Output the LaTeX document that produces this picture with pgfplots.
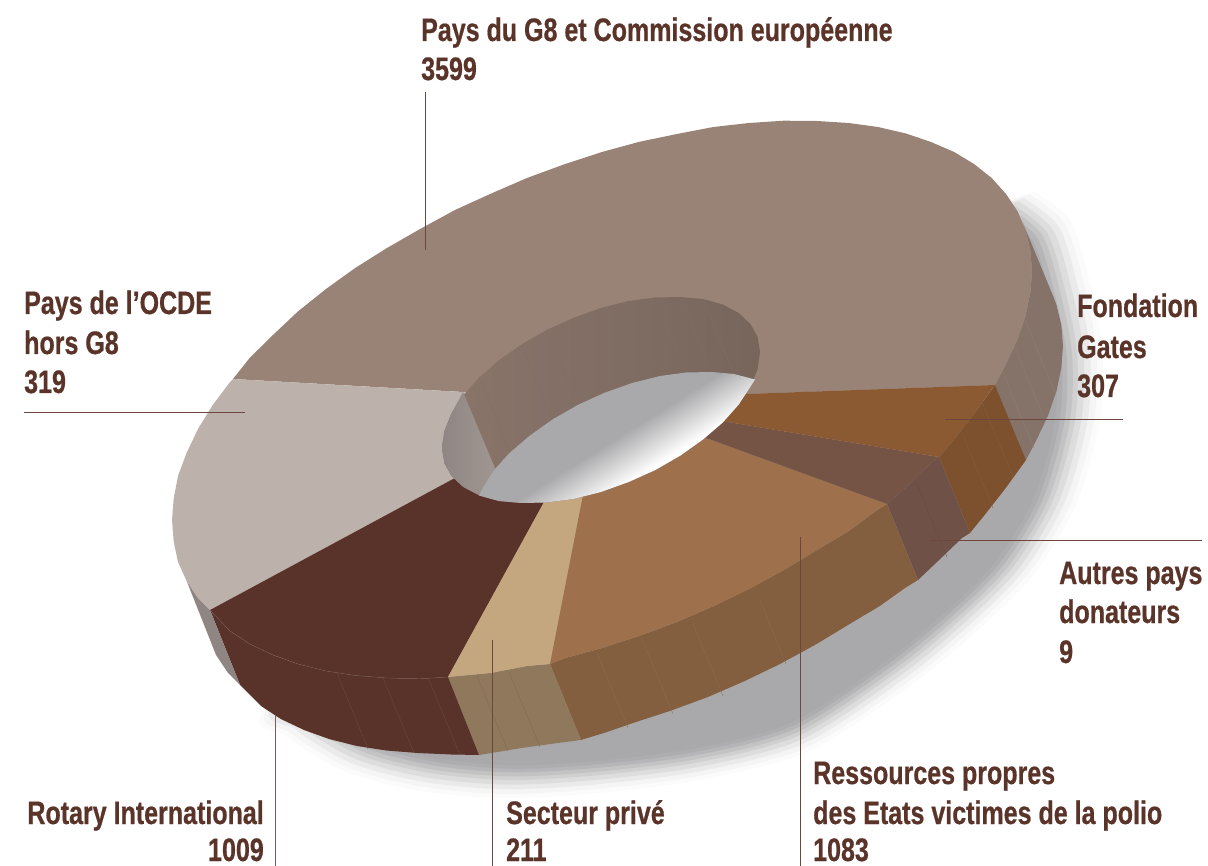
\documentclass[border=0pt]{standalone}
\usepackage{fontspec}
\setmainfont{Liberation Sans}[FakeStretch=0.77]
\newfontfamily\labfont{Liberation Sans Bold}[FakeStretch=0.77,FakeBold=0.6]
\usepackage{pgfplots}
\usepackage{pgfplotstable}
\pgfplotsset{compat=1.18}
\definecolor{txt}{HTML}{5A3329}
\definecolor{shgray}{HTML}{A9A9AB}
\definecolor{cG}{HTML}{998276}
\definecolor{cO}{HTML}{BCB1AB}
\definecolor{cR}{HTML}{59332A}
\definecolor{cS}{HTML}{C4A77E}
\definecolor{cE}{HTML}{9E714C}
\definecolor{cA}{HTML}{755446}
\definecolor{cF}{HTML}{8C5A32}
\definecolor{wG}{HTML}{857269}
\definecolor{wO}{HTML}{8F8583}
\definecolor{wS}{HTML}{90785C}
\definecolor{wE}{HTML}{835F40}
\definecolor{wA}{HTML}{6F5147}
\definecolor{wF}{HTML}{7D512D}
\pgfdeclareverticalshading{lens}{100bp}{color(0bp)=(white); color(38bp)=(white); color(50bp)=(shgray); color(100bp)=(shgray)}
\pgfplotstableread{
1013 205
1047 233
1065 290
1077 353
1075 420
1053 500
1013 567
960 620
897 672
800 735
700 762
600 775
510 780
430 773
360 755
305 722
285 690
450 500
700 300
}\shadowpts
\newcommand\sh[2]{\addplot[smooth,fill=#1,draw=none] table[x expr={620+(\thisrowno{0}-620)*#2},y expr={450+(\thisrowno{1}-450)*#2}] {\shadowpts} -- cycle;}
\newcommand\poly[2]{\addplot[#1,draw=none] coordinates {#2} -- cycle;}
\newcommand\lin[3][0.3pt]{\addplot[#2,line width=#1] coordinates {#3};}
\newcommand\lab[3]{\node[anchor=base west,inner sep=0pt,text=txt,font=\fontsize{32.5}{36}\selectfont\labfont] at (axis cs:#1,#2) {#3};}
\newcommand\labr[3]{\node[anchor=base east,inner sep=0pt,text=txt,font=\fontsize{32.5}{36}\selectfont\labfont] at (axis cs:#1,#2) {#3};}
\begin{document}
\begin{tikzpicture}
\begin{axis}[scale only axis,width=1208pt,height=866pt,xmin=0,xmax=1208,ymin=0,ymax=866,y dir=reverse,hide axis,clip=true]
\path[use as bounding box] (axis cs:0,0) rectangle (axis cs:1208,866);
% shadow
\sh{shgray!5!white}{1.055}
\sh{shgray!12!white}{1.042}
\sh{shgray!25!white}{1.028}
\sh{shgray!40!white}{1.014}
\sh{shgray!55!white}{1.0}
\sh{shgray!70!white}{0.989}
\sh{shgray!85!white}{0.977}
\sh{shgray!95!white}{0.966}
\sh{shgray}{0.955}
% outer walls
\poly{fill=wG}{(1022.5,222)(1025.5,230)(1030.3,250)(1032,271)(1030.3,293)(1025.5,316)(1017.4,339.6)(1006,364)(995,385)(1026,460)(1037,439)(1048.4,414.6)(1056.5,391)(1061.3,368)(1063,346)(1061.3,325)(1056.5,305)(1053.5,297)}
\poly{fill=wF}{(995,385)(974,414)(954,439.5)(939,457)(970,533)(985,514.5)(1005,489)(1026,460)}
\poly{fill=wA}{(939,457)(931,463)(906,487)(887,504)(918,580)(937,562)(962,538)(970,533)}
\poly{fill=wE}{(887,504)(878,509.5)(848.8,531)(817,550)(783.9,570)(749,589)(713.4,606.2)(677,622)(639.4,635.8)(602,648)(564.6,658.2)(550,664)(581,740)(607,732)(633,723)(670.4,710.8)(708,697)(744.4,681.2)(780,664)(814.9,645)(848,625)(879.8,606)(905,588)(918,580)}
\poly{fill=wS}{(550,664)(527,666)(490.6,673)(448,677)(479,755)(521.6,748)(558,743)(581,740)}
\poly{fill=cR}{(448,677)(420.1,678.8)(387,678)(355.2,675.5)(326,671)(298,664)(273,655)(249.8,644)(230,631)(210,610)(240,685)(261,706)(280.8,719)(304,730)(329,739)(357,746)(386.2,750.5)(418,753)(451.1,754.5)(479,755)}
\poly{fill=wO}{(210,610)(198,598)(186.6,580.8)(216,655)(228,673)(240,685)}
% wall stripes
\lin{cR!88!white}{(337,673)(368,749)}
\lin{cR!88!white}{(383,678)(414,753)}
\lin{cR!88!white}{(429,680)(460,755)}
\lin{wS!88!black}{(477,676)(508,751)}
\lin{wS!88!black}{(509,672)(540,747)}
\lin{wE!92!white}{(597,653)(628,728)}
\lin{wE!92!white}{(642,639)(673,714)}
\lin{wE!92!white}{(692,621)(723,696)}
\lin{wE!92!white}{(760,600)(786,664)}
\lin{wF!92!white}{(982,402)(1013,477)}
\lin{wF!92!white}{(962,433)(993,508)}
\lin{wA!92!black}{(916,482)(947,557)}
\lin{wG!90!white}{(1013,343)(1044,418)}
\lin{wG!90!white}{(1025,320)(1056,395)}
\lin{wG!90!white}{(1003,373)(1034,448)}
% top face
\poly{fill=cG}{(233,379)(249.8,357.8)(273,335)(298,311.4)(326,289)(355.2,268)(387,248)(420.1,229)(455,210)(490.6,193.8)(527,178)(564.6,164.2)(602,152)(639.4,141.8)(677,134)(713.4,127)(749,123)(783.9,120.7)(817,121)(848.8,123)(878,127)(906,133.5)(931,142)(954.2,152)(974,164)(991.7,178)(1006,194)(1017.4,211)(1025.5,230)(1030.3,250)(1032,271)(1030.3,293)(1025.5,316)(1017.4,339.6)(1006,364)(995,385)(747,394)(600,400)(463,392)}
\poly{fill=cO}{(233,379)(230,382)(212.4,405.5)(198,429)(186.6,452.9)(178,476)(173.7,498.4)(172,520)(173.7,541.6)(178,562)(186.6,580.8)(198,598)(210,610)(453,479)(590,410)(463,392)}
\poly{fill=cR}{(210,610)(230,631)(249.8,644)(273,655)(298,664)(326,671)(355.2,675.5)(387,678)(420.1,678.8)(448,677)(543,504)(590,420)(453,479)}
\poly{fill=cS}{(448,677)(490.6,673)(527,666)(550,664)(582,500)(590,420)(543,504)}
\poly{fill=cE}{(550,664)(564.6,658.2)(602,648)(639.4,635.8)(677,622)(713.4,606.2)(749,589)(783.9,570)(817,550)(848.8,531)(878,509.5)(887,504)(709,439)(600,420)(582,500)}
\poly{fill=cA}{(887,504)(906,487)(931,463)(939,457)(728,422)(600,420)(709,439)}
\poly{fill=cF}{(939,457)(954,439.5)(974,414)(991.7,389)(995,385)(747,394)(600,420)(728,422)}
\lin{cR!80!white}{(210,610)(230,631)(249.8,644)(273,655)(298,664)(326,671)(355.2,675.5)(387,678)(420.1,678.8)(448,677)}
% hole wall
\addplot[left color=cG!90!black,right color=cG!78!black,draw=none] coordinates {(760,352)(757.6,337)(750.5,324)(738.7,313)(722.8,304.5)(703,299)(680.5,297)(655.4,297.5)(628.7,301)(601,308)(573.3,318)(546.6,330)(521.5,344.5)(498.8,360.5)(479.2,377.5)(463.3,395.4)(451.5,413.4)(444.4,431)(442,447.7)(444.4,463)(451.5,476)(463.3,487)(479.2,495.5)(498.8,501)(521.5,503)(546.6,502.5)(573.3,499)(601,492)(628.7,482)(655.4,470)(680.5,455.5)(703,439.5)(722.8,422.5)(738.7,404.6)(750.5,386.6)(757.6,369)} -- cycle;
\addplot[left color=wO,right color=cO!85!black,draw=none] coordinates {(463,392)(451.5,413.4)(444.4,431)(442,447.7)(444.4,463)(451.5,476)(463.3,487)(479,495)(495,468)} -- cycle;
\lin{cG!85!black}{(521.5,344.5)(552.5,419.5)}
\lin{cG!85!black}{(546.6,330)(577.6,405)}
\lin{cG!85!black}{(573.3,318)(604,393)}
\lin{cG!85!black}{(601,308)(632,383)}
\lin{cG!85!black}{(628.7,301)(660,376)}
\lin{cG!85!black}{(655.4,297.5)(686,372.5)}
\lin{cG!85!black}{(680.5,297)(711.5,372)}
\lin{cG!85!black}{(703,299)(734,374)}
\lin{cG!85!black}{(479.2,377.5)(510,452.5)}
% lens
\addplot[shading=lens,shading angle=32,draw=none] coordinates {(479,495.5)(482.5,488.4)(494,470)(510,452.5)(530,435.5)(552.5,419.5)(577.6,405)(604,393)(632,383)(660,376)(686,372.5)(711.5,372)(734,374)(755,379.5)(750.5,386.6)(738.7,404.6)(722.8,422.5)(703,439.5)(680.5,455.5)(655.4,470)(628.7,482)(601,492)(573.3,499)(546.6,502.5)(521.5,503)(498.8,501)} -- cycle;
% leader lines
\lin[1pt]{txt!90!white}{(425,92)(425,250)}
\lin[1pt]{txt!90!white}{(24,413)(245,413)}
\lin[1pt]{txt!90!white}{(945,420)(1123,420)}
\lin[1pt]{txt!90!white}{(930,540)(1202,540)}
\lin[1pt]{txt!90!white}{(800,537)(800,866)}
\lin[1pt]{txt!90!white}{(492,640)(492,866)}
\lin[1pt]{txt!80!white}{(275,715)(275,866)}
% labels
\lab{421}{41}{Pays du G8 et Commission européenne}
\lab{421}{80}{3599}
\lab{24}{314}{Pays de l’OCDE}
\lab{24}{354}{hors G8}
\lab{24}{393}{319}
\lab{1077}{317}{Fondation}
\lab{1077}{358}{Gates}
\lab{1077}{397}{307}
\lab{1059}{584}{Autres pays}
\lab{1059}{623}{donateurs}
\lab{1059}{663}{9}
\lab{813}{784}{Ressources propres}
\lab{813}{824}{des Etats victimes de la polio}
\lab{813}{861}{1083}
\lab{506}{824}{Secteur privé}
\lab{506}{861}{211}
\labr{264}{824}{Rotary International}
\labr{264}{861}{1009}
\end{axis}
\end{tikzpicture}
\end{document}
